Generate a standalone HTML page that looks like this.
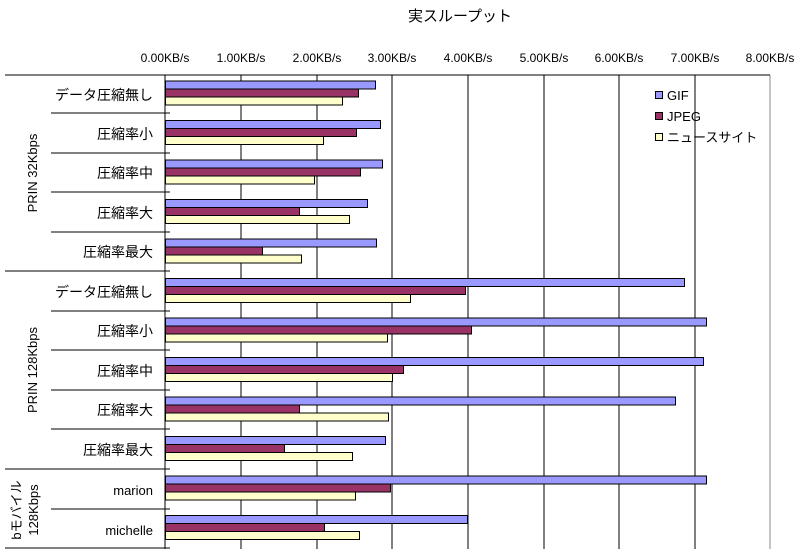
<!DOCTYPE html>
<html><head><meta charset="utf-8"><style>
body{margin:0;background:#fff;}
svg{display:block;font-family:"Liberation Sans","Noto Sans CJK JP",sans-serif;}
</style></head><body>
<svg width="800" height="559" viewBox="0 0 800 559" xmlns="http://www.w3.org/2000/svg">
<text x="460" y="21" font-size="15" text-anchor="middle">実スループット</text>
<g font-size="12" text-anchor="middle" fill="#000">
<text x="165" y="62">0.00KB/s</text><text x="241" y="62">1.00KB/s</text><text x="317" y="62">2.00KB/s</text>
<text x="392" y="62">3.00KB/s</text><text x="468" y="62">4.00KB/s</text><text x="544" y="62">5.00KB/s</text>
<text x="619" y="62">6.00KB/s</text><text x="695" y="62">7.00KB/s</text><text x="770" y="62">8.00KB/s</text>
</g>
<g stroke="#000" stroke-width="1">
<line x1="241" y1="75" x2="241" y2="549"/><line x1="317" y1="75" x2="317" y2="549"/>
<line x1="392" y1="75" x2="392" y2="549"/><line x1="468" y1="75" x2="468" y2="549"/>
<line x1="544" y1="75" x2="544" y2="549"/><line x1="619" y1="75" x2="619" y2="549"/>
<line x1="695" y1="75" x2="695" y2="549"/><line x1="770" y1="75" x2="770" y2="549" stroke="#888"/>
<line x1="165" y1="75" x2="165" y2="549" stroke="#555" stroke-width="1.5"/>
<line x1="5" y1="75" x2="770" y2="75"/>
<line x1="51" y1="113" x2="170" y2="113"/><line x1="51" y1="153" x2="170" y2="153"/>
<line x1="51" y1="192" x2="170" y2="192"/><line x1="51" y1="232" x2="170" y2="232"/>
<line x1="5" y1="271" x2="170" y2="271"/>
<line x1="51" y1="311" x2="170" y2="311"/><line x1="51" y1="350" x2="170" y2="350"/>
<line x1="51" y1="390" x2="170" y2="390"/><line x1="51" y1="429" x2="170" y2="429"/>
<line x1="5" y1="469" x2="170" y2="469"/><line x1="51" y1="509" x2="170" y2="509"/>
<line x1="5" y1="548" x2="170" y2="548"/>
</g>
<g stroke="#000" stroke-width="1">
<g transform="translate(0,75)">
<rect x="165.5" y="6" width="210" height="8" fill="#9999ff"/><rect x="165.5" y="14" width="193" height="8" fill="#993366"/><rect x="165.5" y="22" width="177" height="8" fill="#ffffcc"/></g>
<g transform="translate(0,114.5)">
<rect x="165.5" y="6" width="215" height="8" fill="#9999ff"/><rect x="165.5" y="14" width="191" height="8" fill="#993366"/><rect x="165.5" y="22" width="158" height="8" fill="#ffffcc"/></g>
<g transform="translate(0,154)">
<rect x="165.5" y="6" width="217" height="8" fill="#9999ff"/><rect x="165.5" y="14" width="195" height="8" fill="#993366"/><rect x="165.5" y="22" width="149" height="8" fill="#ffffcc"/></g>
<g transform="translate(0,193.5)">
<rect x="165.5" y="6" width="202" height="8" fill="#9999ff"/><rect x="165.5" y="14" width="134" height="8" fill="#993366"/><rect x="165.5" y="22" width="184" height="8" fill="#ffffcc"/></g>
<g transform="translate(0,233)">
<rect x="165.5" y="6" width="211" height="8" fill="#9999ff"/><rect x="165.5" y="14" width="97" height="8" fill="#993366"/><rect x="165.5" y="22" width="136" height="8" fill="#ffffcc"/></g>
<g transform="translate(0,272.5)">
<rect x="165.5" y="6" width="519" height="8" fill="#9999ff"/><rect x="165.5" y="14" width="300" height="8" fill="#993366"/><rect x="165.5" y="22" width="245" height="8" fill="#ffffcc"/></g>
<g transform="translate(0,312)">
<rect x="165.5" y="6" width="541" height="8" fill="#9999ff"/><rect x="165.5" y="14" width="306" height="8" fill="#993366"/><rect x="165.5" y="22" width="222" height="8" fill="#ffffcc"/></g>
<g transform="translate(0,351.5)">
<rect x="165.5" y="6" width="538" height="8" fill="#9999ff"/><rect x="165.5" y="14" width="238" height="8" fill="#993366"/><rect x="165.5" y="22" width="227" height="8" fill="#ffffcc"/></g>
<g transform="translate(0,391)">
<rect x="165.5" y="6" width="510" height="8" fill="#9999ff"/><rect x="165.5" y="14" width="134" height="8" fill="#993366"/><rect x="165.5" y="22" width="223" height="8" fill="#ffffcc"/></g>
<g transform="translate(0,430.5)">
<rect x="165.5" y="6" width="220" height="8" fill="#9999ff"/><rect x="165.5" y="14" width="119" height="8" fill="#993366"/><rect x="165.5" y="22" width="187" height="8" fill="#ffffcc"/></g>
<g transform="translate(0,470)">
<rect x="165.5" y="6" width="541" height="8" fill="#9999ff"/><rect x="165.5" y="14" width="225" height="8" fill="#993366"/><rect x="165.5" y="22" width="190" height="8" fill="#ffffcc"/></g>
<g transform="translate(0,509.5)">
<rect x="165.5" y="6" width="302" height="8" fill="#9999ff"/><rect x="165.5" y="14" width="159" height="8" fill="#993366"/><rect x="165.5" y="22" width="194" height="8" fill="#ffffcc"/></g>
</g>
<g font-size="14" text-anchor="end">
<text x="153" y="100">データ圧縮無し</text><text x="153" y="139">圧縮率小</text><text x="153" y="178">圧縮率中</text>
<text x="153" y="218">圧縮率大</text><text x="153" y="257">圧縮率最大</text>
<text x="153" y="297">データ圧縮無し</text><text x="153" y="336">圧縮率小</text><text x="153" y="376">圧縮率中</text>
<text x="153" y="415">圧縮率大</text><text x="153" y="455">圧縮率最大</text>
<text x="153" y="495" font-size="13">marion</text><text x="153" y="535" font-size="13">michelle</text>
</g>
<g font-size="13" text-anchor="middle">
<text transform="translate(37,173) rotate(-90)">PRIN 32Kbps</text>
<text transform="translate(37,370) rotate(-90)">PRIN 128Kbps</text>
<text transform="translate(21,510) rotate(-90)">bモバイル</text>
<text transform="translate(38,510) rotate(-90)">128Kbps</text>
</g>
<g stroke="#000" stroke-width="1">
<rect x="655.5" y="91.5" width="7" height="7" fill="#9999ff"/>
<rect x="655.5" y="112.5" width="7" height="7" fill="#993366"/>
<rect x="655.5" y="133.5" width="7" height="7" fill="#ffffcc"/>
</g>
<g font-size="13">
<text x="667" y="100">GIF</text><text x="667" y="121">JPEG</text><text x="667" y="142">ニュースサイト</text>
</g>
</svg>
</body></html>
